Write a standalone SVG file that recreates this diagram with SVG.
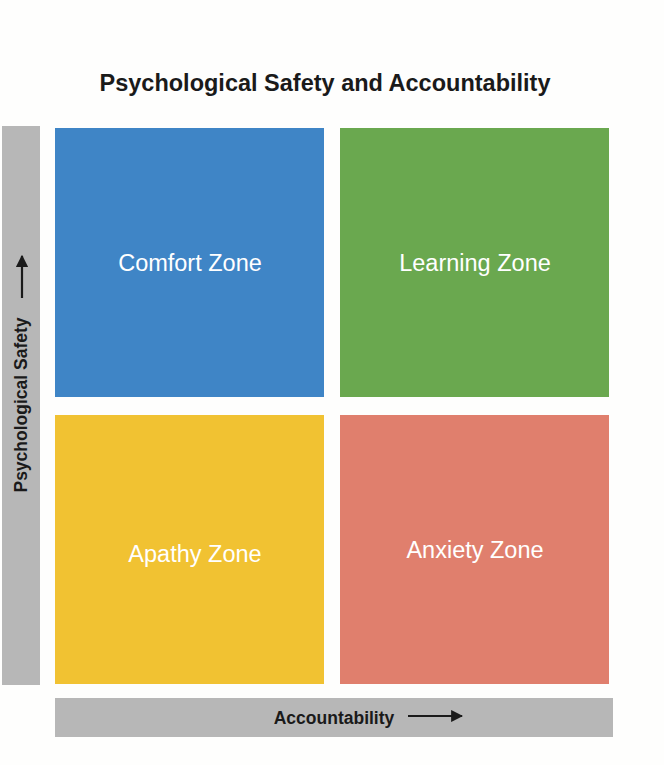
<svg xmlns="http://www.w3.org/2000/svg" width="664" height="765" viewBox="0 0 664 765">
<defs>
<marker id="ah" viewBox="0 0 10 10" refX="9" refY="5" markerWidth="5.5" markerHeight="5.5" orient="auto"><path d="M0,0 L10,5 L0,10 z" fill="#1a1a1a"/></marker>
<style>
.zone-t{font-family:"Liberation Sans",Arial,sans-serif;font-size:23.5px;fill:#ffffff;text-anchor:middle}
.axis-t{font-family:"Liberation Sans",Arial,sans-serif;font-size:17.5px;font-weight:bold;fill:#1a1a1a;text-anchor:middle}
.bar{fill:#b7b7b7}
.arr{stroke:#1a1a1a;stroke-width:2.2;fill:none;marker-end:url(#ah)}
</style>
</defs>
<rect width="664" height="765" fill="#fefefd"/>
<text x="325" y="91" font-family="Liberation Sans,Arial,sans-serif" font-size="23.5" font-weight="bold" fill="#1a1a1a" text-anchor="middle">Psychological Safety and Accountability</text>
<g id="comfort"><rect x="55" y="128" width="269" height="269" fill="#3f85c6"/><text class="zone-t" x="190" y="271">Comfort Zone</text></g>
<g id="learning"><rect x="340" y="128" width="269" height="269" fill="#6aa84f"/><text class="zone-t" x="475" y="271">Learning Zone</text></g>
<g id="apathy"><rect x="55" y="415" width="269" height="269" fill="#f1c232"/><text class="zone-t" x="195" y="562">Apathy Zone</text></g>
<g id="anxiety"><rect x="340" y="415" width="269" height="269" fill="#e07f6d"/><text class="zone-t" x="475" y="558">Anxiety Zone</text></g>
<g id="y-axis"><rect class="bar" x="2" y="126" width="38" height="559"/><text class="axis-t" transform="translate(27,405) rotate(-90)">Psychological Safety</text></g>
<g id="x-axis"><rect class="bar" x="55" y="698" width="558" height="39"/><text class="axis-t" x="334" y="724">Accountability</text></g>
<g id="connectors">
<line class="arr" x1="22" y1="298" x2="22" y2="256"/>
<line class="arr" x1="408" y1="716" x2="462" y2="716"/>
</g>
</svg>
